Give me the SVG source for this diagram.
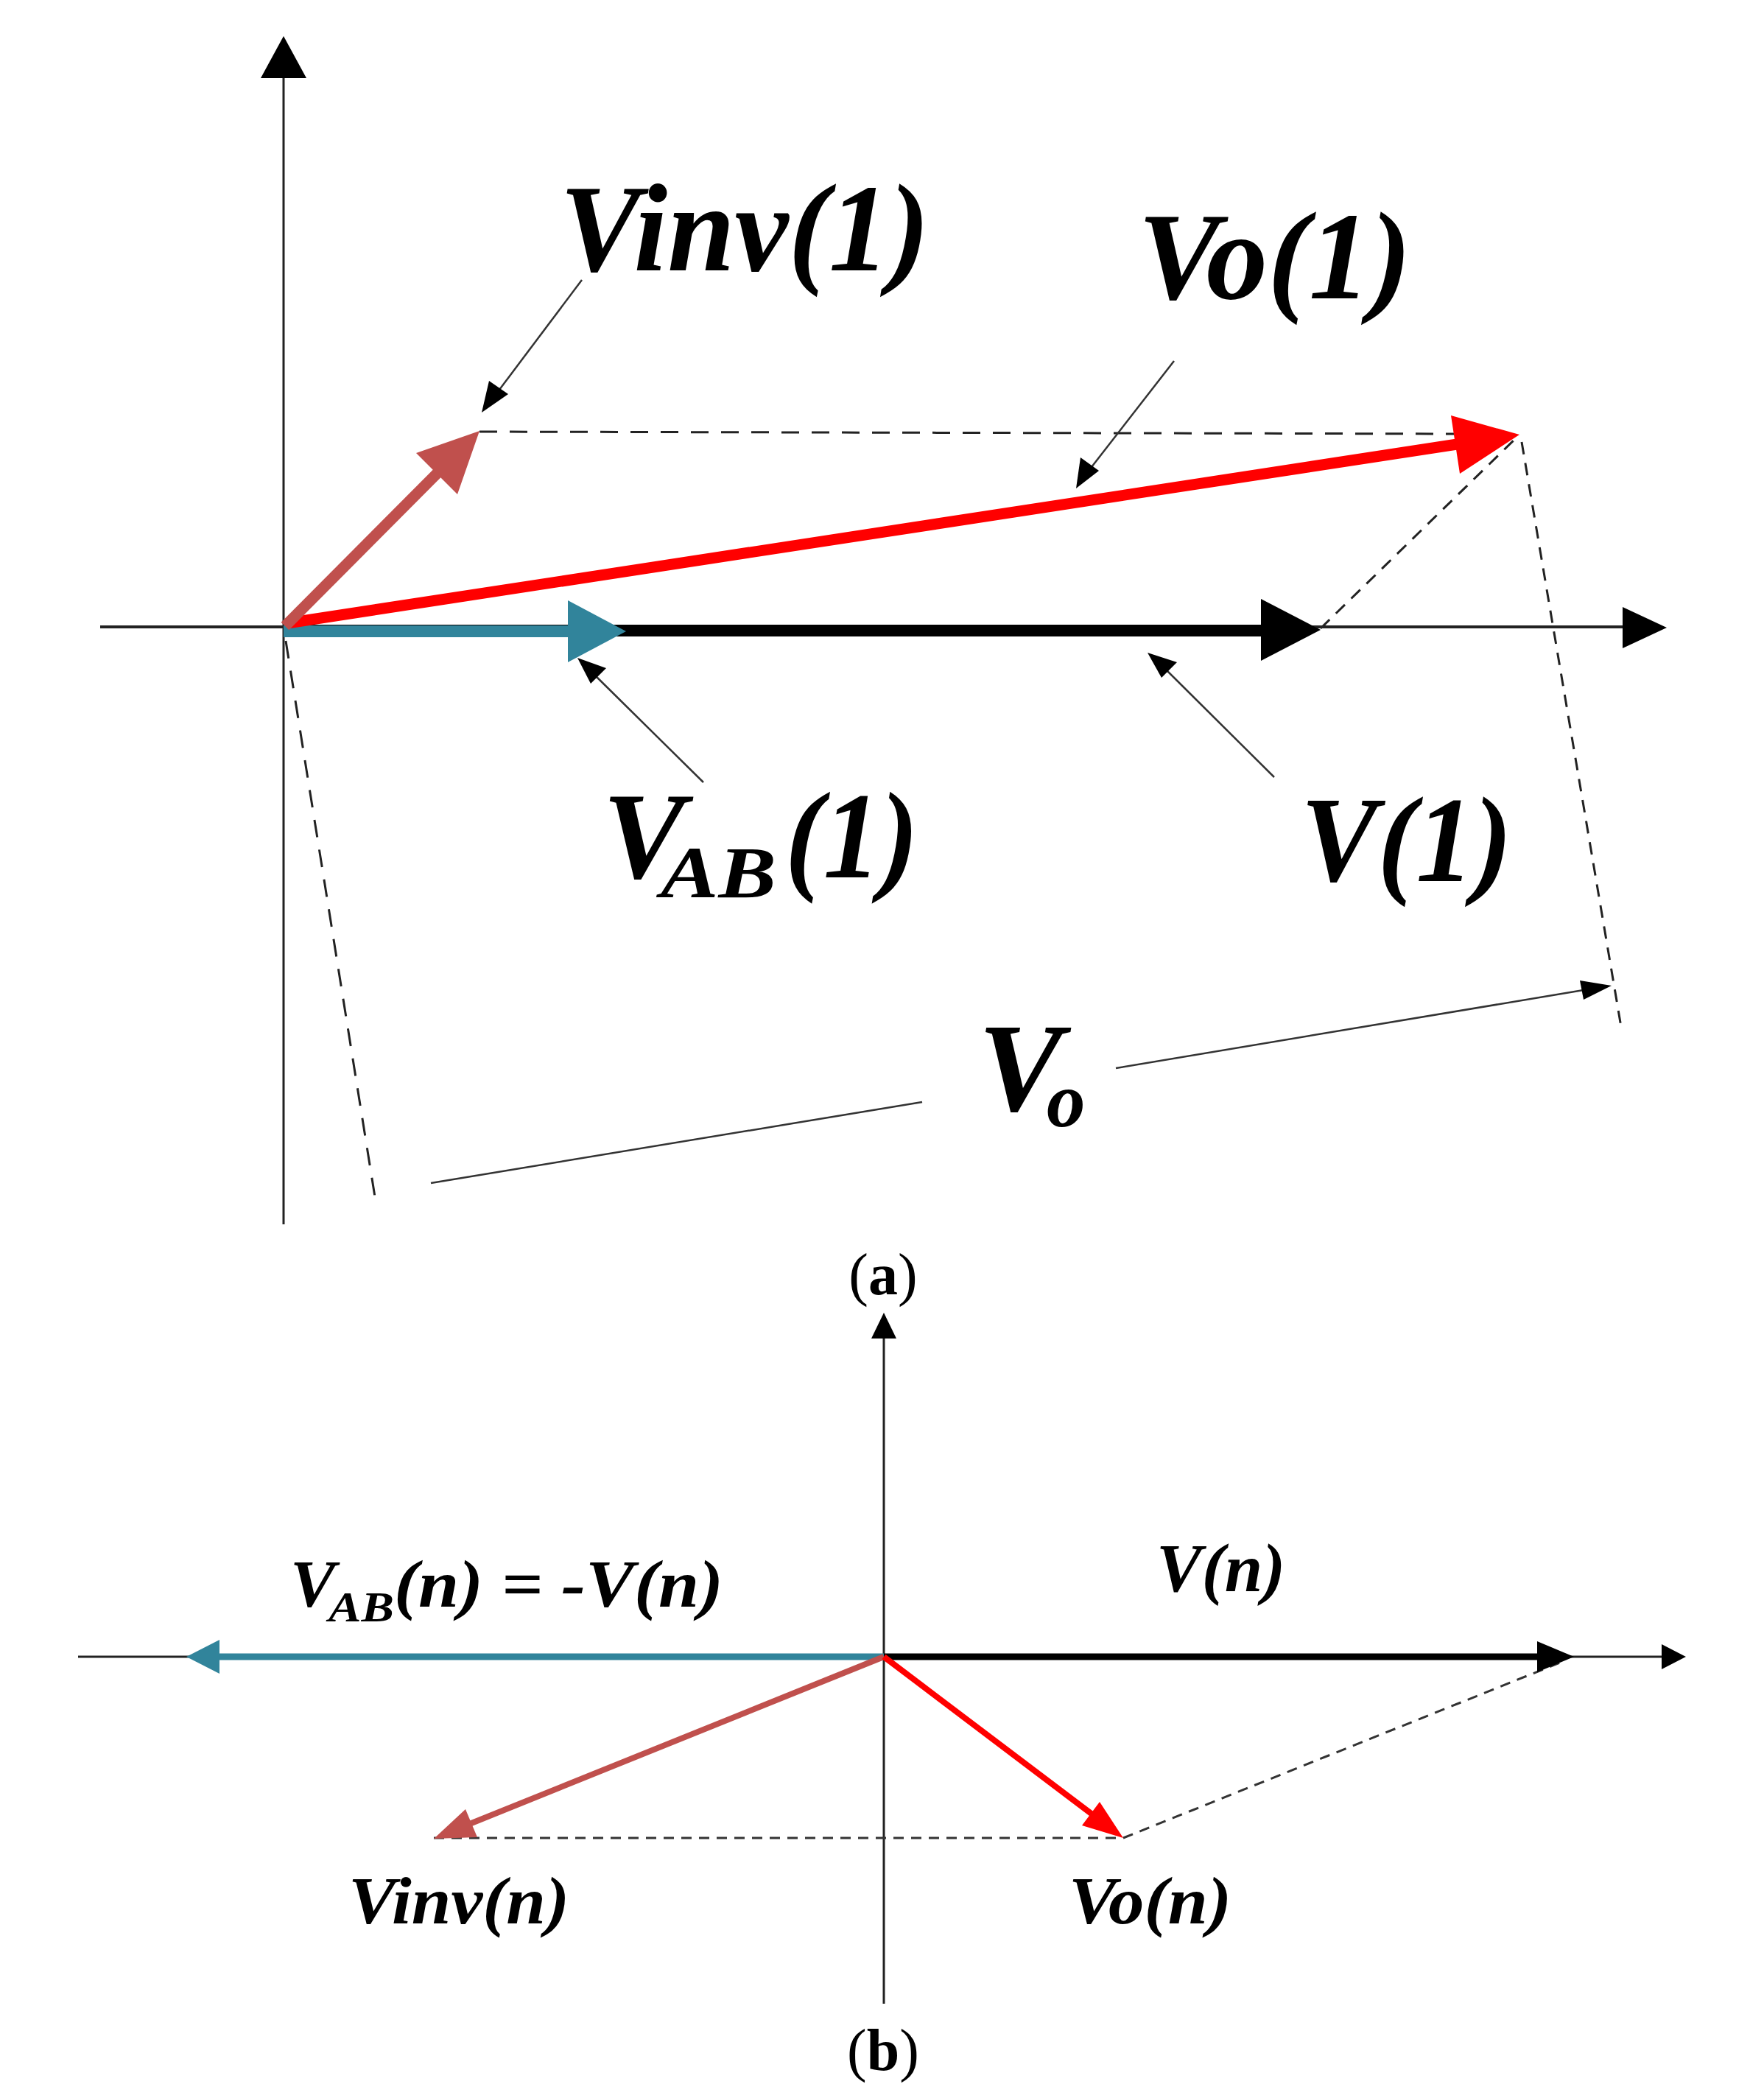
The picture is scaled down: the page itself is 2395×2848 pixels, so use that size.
<svg xmlns="http://www.w3.org/2000/svg" width="2395" height="2848" viewBox="0 0 2395 2848">
<style>
.lbl{font-family:"Liberation Serif","Times New Roman",serif;font-weight:bold;font-style:italic;fill:#000}
.cap{font-family:"Liberation Serif","Times New Roman",serif;fill:#000}
.axis{stroke:#222;stroke-width:3;fill:none}
.lead{stroke:#333;stroke-width:2.5;fill:none}
.dash{stroke:#222;stroke-width:3;fill:none;stroke-dasharray:24 17}
.dash2{stroke:#222;stroke-width:3;fill:none;stroke-dasharray:17 12}
.dash3{stroke:#333;stroke-width:3;fill:none;stroke-dasharray:14 10}
.blk{fill:#000}
</style>
<rect width="2395" height="2848" fill="#fff"/>

<!-- ===== (a) ===== -->
<g id="axes-a">
  <line class="axis" x1="385" y1="1662" x2="385" y2="100"/>
  <polygon class="blk" points="385,49 354,106 416,106"/>
  <line class="axis" x1="136" y1="851" x2="2210" y2="851" style="stroke-width:4"/>
  <polygon class="blk" points="2263,852 2203,824 2203,880"/>
</g>

<g id="connectors-a">
  <line class="dash" x1="651" y1="586" x2="2000" y2="589"/>
  <line class="dash2" x1="1793" y1="853" x2="2058" y2="595"/>
  <line class="dash2" x1="2066" y1="600" x2="2201" y2="1394"/>
  <line class="dash" x1="388" y1="870" x2="511" y2="1637"/>
  <line class="lead" x1="585" y1="1606" x2="1252" y2="1496"/>
  <line class="lead" x1="1515" y1="1450" x2="2150" y2="1344"/>
  <polygon class="blk" points="2188,1338 2145,1331 2150,1357"/>
  <line class="lead" x1="790" y1="380" x2="672" y2="537"/>
  <polygon class="blk" points="654,560 664,517 690,535"/>
  <line class="lead" x1="1594" y1="490" x2="1475" y2="643"/>
  <polygon class="blk" points="1461,663 1467,621 1492,639"/>
  <line class="lead" x1="955" y1="1062" x2="801" y2="910"/>
  <polygon class="blk" points="784,893 823,907 802,928"/>
  <line class="lead" x1="1730" y1="1055" x2="1577" y2="903"/>
  <polygon class="blk" points="1558,886 1598,899 1577,920"/>
</g>

<g id="vector-V1">
  <line x1="385" y1="856" x2="1720" y2="856" stroke="#000" stroke-width="16"/>
  <polygon class="blk" points="1793,855 1712,813 1712,897"/>
</g>
<g id="vector-VAB1">
  <line x1="385" y1="857" x2="780" y2="857" stroke="#31849B" stroke-width="16"/>
  <polygon fill="#31849B" points="850,857 771,815 771,899"/>
</g>
<g id="vector-Vo1">
  <line x1="390" y1="846" x2="1985" y2="602" stroke="#FF0000" stroke-width="15"/>
  <polygon fill="#FF0000" points="2063,590 1970,564 1982,643"/>
</g>
<g id="vector-Vinv1">
  <line x1="387" y1="850" x2="600" y2="636" stroke="#C0504D" stroke-width="15"/>
  <polygon fill="#C0504D" points="651,585 565,615 621,671"/>
</g>

<g id="label-Vinv1"><text class="lbl" x="760" y="367" font-size="170" textLength="502" lengthAdjust="spacingAndGlyphs">Vinv(1)</text></g>
<g id="label-Vo1"><text class="lbl" x="1545" y="405" font-size="170" textLength="371" lengthAdjust="spacingAndGlyphs">Vo(1)</text></g>
<g id="label-V1"><text class="lbl" x="1766" y="1196" font-size="165" textLength="287" lengthAdjust="spacingAndGlyphs">V(1)</text></g>
<g id="label-VAB1"><text class="lbl" font-size="168"><tspan x="818" y="1191">V</tspan><tspan x="897" y="1218" font-size="100" textLength="157" lengthAdjust="spacingAndGlyphs">AB</tspan><tspan x="1066" y="1191" textLength="181" lengthAdjust="spacingAndGlyphs">(1)</tspan></text></g>
<g id="label-Vo"><text class="lbl" font-size="172"><tspan x="1328" y="1507">V</tspan><tspan x="1421" y="1529" font-size="105">o</tspan></text></g>
<g id="caption-a"><text class="cap" x="1199" y="1757" font-size="80" text-anchor="middle">(<tspan font-weight="bold">a</tspan>)</text></g>

<!-- ===== (b) ===== -->
<g id="axes-b">
  <line class="axis" x1="1200" y1="2720" x2="1200" y2="1810"/>
  <polygon class="blk" points="1200,1782 1183,1817 1217,1817"/>
  <line class="axis" x1="106" y1="2249" x2="2260" y2="2249"/>
  <polygon class="blk" points="2289,2249 2256,2232 2256,2266"/>
</g>

<g id="connectors-b">
  <line class="dash3" x1="589" y1="2495" x2="1525" y2="2495"/>
  <line class="dash3" x1="1525" y1="2495" x2="2118" y2="2257"/>
</g>

<g id="vector-Vn">
  <line x1="1200" y1="2249" x2="2095" y2="2249" stroke="#000" stroke-width="9"/>
  <polygon class="blk" points="2137,2249 2087,2228 2087,2270"/>
</g>
<g id="vector-VABn">
  <line x1="1200" y1="2249" x2="290" y2="2249" stroke="#31849B" stroke-width="9"/>
  <polygon fill="#31849B" points="253,2249 298,2226 298,2272"/>
</g>
<g id="vector-Vinvn">
  <line x1="1200" y1="2249" x2="635" y2="2477" stroke="#C0504D" stroke-width="8"/>
  <polygon fill="#C0504D" points="589,2496 632,2456 648,2494"/>
</g>
<g id="vector-Von">
  <line x1="1200" y1="2249" x2="1487" y2="2466" stroke="#FF0000" stroke-width="8"/>
  <polygon fill="#FF0000" points="1525,2495 1469,2478 1493,2446"/>
</g>

<g id="label-VABn"><text class="lbl" font-size="92"><tspan x="394" y="2181">V</tspan><tspan x="446" y="2201" font-size="56" textLength="89" lengthAdjust="spacingAndGlyphs">AB</tspan><tspan x="535" y="2181" textLength="447" lengthAdjust="spacingAndGlyphs">(n) = -V(n)</tspan></text></g>
<g id="label-Vn"><text class="lbl" x="1570" y="2160" font-size="94" textLength="175" lengthAdjust="spacingAndGlyphs">V(n)</text></g>
<g id="label-Vinvn"><text class="lbl" x="473" y="2611" font-size="92" textLength="300" lengthAdjust="spacingAndGlyphs">Vinv(n)</text></g>
<g id="label-Von"><text class="lbl" x="1451" y="2611" font-size="92" textLength="221" lengthAdjust="spacingAndGlyphs">Vo(n)</text></g>
<g id="caption-b"><text class="cap" x="1199" y="2810" font-size="80" text-anchor="middle">(<tspan font-weight="bold">b</tspan>)</text></g>
</svg>
